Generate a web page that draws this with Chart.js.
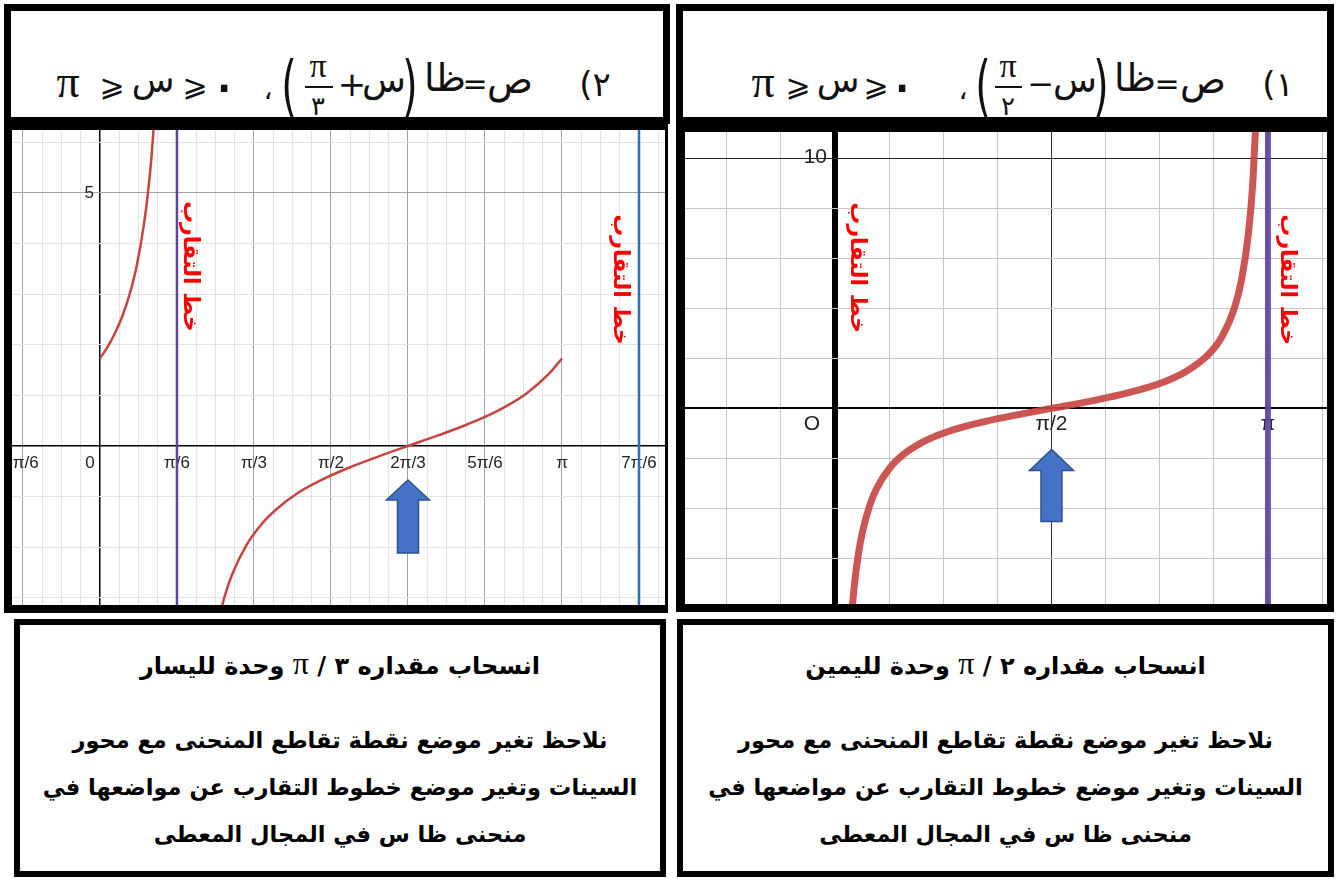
<!DOCTYPE html>
<html>
<head>
<meta charset="utf-8">
<script src="https://cdn.jsdelivr.net/npm/chart.js@4.4.1/dist/chart.umd.min.js"></script>
<style>
  html, body { margin: 0; padding: 0; background: #fff; }
  body { width: 1336px; height: 879px; position: relative; overflow: hidden; font-family: "DejaVu Sans", sans-serif; }
  .box { position: absolute; box-sizing: border-box; border: 7px solid #000; background: #fff; }
  .piece { position: absolute; line-height: 1; white-space: nowrap; color: #111; transform: translate(-50%, -50%); }
  .bar { position: absolute; height: 2px; background: #111; }
  .line { position: absolute; width: 100%; text-align: center; font-weight: bold; color: #000; line-height: 1; transform: translateY(-50%); }
  .pi { font-family: "Liberation Serif", serif; font-weight: normal; }
  canvas { position: absolute; }
</style>
</head>
<body>

<div class="box" style="left:4px;top:4px;width:666px;height:120px;"></div>
<div class="box" style="left:4px;top:123px;width:664px;height:490px;border-width:7px 3px 8px 8px;"></div>
<canvas id="chartL" width="653" height="475" style="left:12px;top:130px;"></canvas>

<div class="box" style="left:676px;top:4px;width:658px;height:120px;"></div>
<div class="box" style="left:676px;top:123px;width:658px;height:489px;border-width:9px 7px 8px 9px;"></div>
<canvas id="chartR" width="642" height="472" style="left:685px;top:132px;"></canvas>

<div class="box" style="left:14px;top:619px;width:652px;height:258px;border-width:6px;">
  <div class="line" dir="rtl" style="top:38px;font-size:24px;">انسحاب مقداره ٣ / <span class="pi" style="font-size:32px;">π</span> وحدة لليسار</div>
  <div class="line" dir="rtl" style="top:115px;font-size:22.5px;">نلاحظ تغير موضع نقطة تقاطع المنحنى مع محور</div>
  <div class="line" dir="rtl" style="top:162px;font-size:22.5px;">السينات وتغير موضع خطوط التقارب عن مواضعها في</div>
  <div class="line" dir="rtl" style="top:209px;font-size:22.5px;">منحنى ظا س في المجال المعطى</div>
</div>
<div class="box" style="left:677px;top:619px;width:657px;height:258px;border-width:6px;">
  <div class="line" dir="rtl" style="top:38px;font-size:24px;">انسحاب مقداره ٢ / <span class="pi" style="font-size:32px;">π</span> وحدة لليمين</div>
  <div class="line" dir="rtl" style="top:115px;font-size:22.5px;">نلاحظ تغير موضع نقطة تقاطع المنحنى مع محور</div>
  <div class="line" dir="rtl" style="top:162px;font-size:22.5px;">السينات وتغير موضع خطوط التقارب عن مواضعها في</div>
  <div class="line" dir="rtl" style="top:209px;font-size:22.5px;">منحنى ظا س في المجال المعطى</div>
</div>

<script>
// ---- left panel: y = tan(x + π/3), 0 <= x <= π ----
const leftBranch1X = [0, 0.05, 0.1, 0.15, 0.2, 0.25, 0.3, 0.33, 0.35, 0.37, 0.38];
const leftBranch1Y = [1.73, 1.95, 2.22, 2.55, 2.98, 3.56, 4.40, 5.10, 5.70, 6.47, 6.94];
const leftBranch2X = [0.82, 0.85, 0.9, 1.0, 1.1, 1.2, 1.35, 1.5, 1.7, 1.9, 2.094, 2.3, 2.5, 2.7, 2.9, 3.05, 3.1416];
const leftBranch2Y = [-3.28, -2.95, -2.53, -1.94, -1.54, -1.25, -0.92, -0.68, -0.42, -0.20, 0, 0.21, 0.43, 0.69, 1.04, 1.42, 1.73];
const leftAsymptotes = [Math.PI / 6, 7 * Math.PI / 6];
const leftCrossing = 2 * Math.PI / 3;
const leftXTicks = [-Math.PI / 6, 0, Math.PI / 6, Math.PI / 3, Math.PI / 2, 2 * Math.PI / 3, 5 * Math.PI / 6, Math.PI, 7 * Math.PI / 6];
const leftXLabels = ['-π/6', '0', 'π/6', 'π/3', 'π/2', '2π/3', '5π/6', 'π', '7π/6'];
const leftYTicks = [5];
const leftYLabels = ['5'];

// ---- right panel: y = tan(x - π/2), 0 <= x <= π ----
const rightCurveX = [0.12, 0.14, 0.17, 0.2, 0.25, 0.3, 0.4, 0.5, 0.6, 0.75, 0.9, 1.1, 1.3, 1.5708, 1.8, 2.0, 2.2, 2.4, 2.55, 2.7, 2.8, 2.9, 2.95, 3.0, 3.03, 3.06];
const rightCurveY = [-8.29, -7.10, -5.82, -4.93, -3.92, -3.23, -2.37, -1.83, -1.46, -1.07, -0.79, -0.51, -0.28, 0, 0.23, 0.46, 0.73, 1.09, 1.49, 2.11, 2.80, 4.06, 5.16, 7.02, 8.92, 12.2];
const rightAsymptotes = [Math.PI];
const rightCrossing = Math.PI / 2;
const rightXTicks = [0, Math.PI / 2, Math.PI];
const rightXLabels = ['O', 'π/2', 'π'];
const rightYTicks = [10];
const rightYLabels = ['10'];

const noteText = 'خط التقارب';

// header formulas, placed piece by piece: [text, centre x, centre y, size, serif?]
const headerPieces = [
  ['π', 68, 82, 46, 1], ['⩾', 112, 86, 30], ['س', 153, 80, 35], ['⩾', 195, 86, 30], ['٠', 224, 84, 60], ['،', 268, 90, 28],
  ['(', 289, 86, 66], ['π', 318, 66, 34, 1], ['٣', 318, 106, 26], ['+', 352, 84, 34], ['س', 384, 80, 36], [')', 410, 86, 66],
  ['ظا', 445, 78, 38], ['=', 475, 84, 30], ['ص', 510, 80, 38], ['(٢', 595, 84, 34],
  ['π', 763, 82, 46, 1], ['⩾', 798, 86, 30], ['س', 838, 80, 35], ['⩾', 876, 86, 30], ['٠', 902, 84, 60], ['،', 963, 90, 28],
  ['(', 983, 86, 66], ['π', 1008, 66, 34, 1], ['٢', 1008, 106, 26], ['−', 1041, 84, 32], ['س', 1075, 80, 36], [')', 1101, 86, 66],
  ['ظا', 1135, 78, 38], ['=', 1167, 84, 30], ['ص', 1203, 80, 38], ['(١', 1278, 84, 34]
];
headerPieces.forEach(([t, x, y, s, serif]) => {
  const el = document.createElement('div');
  el.className = 'piece';
  el.textContent = t;
  el.style.left = x + 'px';
  el.style.top = y + 'px';
  el.style.fontSize = s + 'px';
  el.style.fontFamily = serif ? '"Liberation Serif", serif' : '"DejaVu Sans", sans-serif';
  if (t === '(' || t === ')') el.style.transform = 'translate(-50%, -50%) scaleX(0.6)';
  document.body.appendChild(el);
});
[[305, 86, 28], [995, 86, 27]].forEach(([x, y, w]) => {
  const b = document.createElement('div');
  b.className = 'bar';
  b.style.left = x + 'px'; b.style.top = y + 'px'; b.style.width = w + 'px';
  document.body.appendChild(b);
});

function pts(xs, ys) {
  return xs.map((x, i) => ({ x: x, y: ys[i] }));
}

function gridTicks(step, majorEvery) {
  return function (scale) {
    const ticks = [];
    for (let k = Math.ceil(scale.min / step); k <= Math.floor(scale.max / step); k++) {
      ticks.push({ value: k * step, k: k, major: k % majorEvery === 0 });
    }
    scale.ticks = ticks;
  };
}

function gridOpts(c) {
  return {
    drawTicks: false,
    color: ctx => ctx.tick.k === 0 ? '#000' : (ctx.tick.major ? c.major : c.minor),
    lineWidth: ctx => ctx.tick.k === 0 ? c.axisWidth : 1
  };
}

// axis labels, arrow and rotated notes
const decor = {
  id: 'decor',
  beforeDatasetsDraw(chart, args, o) {
    const { ctx, chartArea: a, scales: { x, y } } = chart;
    ctx.save();
    ctx.beginPath();
    ctx.rect(a.left, a.top, a.width, a.height);
    ctx.clip();
    ctx.font = o.tickFont;
    ctx.fillStyle = '#222';
    ctx.textAlign = 'center';
    ctx.textBaseline = 'middle';
    const y0 = y.getPixelForValue(0);
    const x0 = x.getPixelForValue(0);
    o.xTicks.forEach((v, i) => {
      const dx = i === o.originIndex ? o.originDx : 0;
      ctx.fillText(o.xLabels[i], x.getPixelForValue(v) + dx, y0 + o.labelDy);
    });
    ctx.textAlign = 'right';
    o.yTicks.forEach((v, i) => {
      ctx.fillText(o.yLabels[i], x0 - o.yLabelDx, y.getPixelForValue(v) + o.yLabelDy);
    });
    ctx.restore();
  },
  afterDatasetsDraw(chart, args, o) {
    const { ctx, scales: { x, y } } = chart;
    const y0 = y.getPixelForValue(0);
    const ar = o.arrow;
    const ax = x.getPixelForValue(ar.x);
    ctx.save();
    ctx.beginPath();
    ctx.moveTo(ax, y0 + ar.tip);
    ctx.lineTo(ax + ar.head, y0 + ar.base);
    ctx.lineTo(ax + ar.shaft, y0 + ar.base);
    ctx.lineTo(ax + ar.shaft, y0 + ar.bottom);
    ctx.lineTo(ax - ar.shaft, y0 + ar.bottom);
    ctx.lineTo(ax - ar.shaft, y0 + ar.base);
    ctx.lineTo(ax - ar.head, y0 + ar.base);
    ctx.closePath();
    ctx.fillStyle = '#4472c4';
    ctx.fill();
    ctx.lineWidth = 1.5;
    ctx.strokeStyle = '#2f528f';
    ctx.stroke();

    ctx.font = o.noteFont;
    ctx.fillStyle = '#ff0000';
    ctx.textAlign = 'center';
    ctx.textBaseline = 'middle';
    o.notes.forEach(n => {
      ctx.save();
      ctx.translate(x.getPixelForValue(n.x) + n.dx, y.getPixelForValue(n.y));
      ctx.rotate(Math.PI / 2);
      ctx.fillText(noteText, 0, 0);
      ctx.restore();
    });
    ctx.restore();
  }
};

function vline(v, color, width) {
  return { data: [{ x: v, y: -100 }, { x: v, y: 100 }], showLine: true, borderColor: color, borderWidth: width, pointRadius: 0 };
}

function curve(data, color, width) {
  return { data: data, showLine: true, borderColor: color, borderWidth: width, pointRadius: 0, cubicInterpolationMode: 'monotone' };
}

new Chart(document.getElementById('chartL'), {
  type: 'scatter',
  data: {
    datasets: [
      vline(leftAsymptotes[0], '#6042a6', 2.5),
      vline(leftAsymptotes[1], '#2d70b3', 2.5),
      curve(pts(leftBranch1X, leftBranch1Y), '#c74440', 2.5),
      curve(pts(leftBranch2X, leftBranch2Y), '#c74440', 2.5)
    ]
  },
  options: {
    responsive: false,
    animation: false,
    layout: { padding: 0 },
    plugins: {
      legend: { display: false },
      tooltip: { enabled: false },
      decor: {
        tickFont: '17px "Liberation Sans", Arial, sans-serif',
        xTicks: leftXTicks, xLabels: leftXLabels, originIndex: 1, originDx: -10, labelDy: 17,
        yTicks: leftYTicks, yLabels: leftYLabels, yLabelDx: 6, yLabelDy: 0,
        arrow: { x: leftCrossing, tip: 34, base: 54, bottom: 107, head: 21.5, shaft: 10.5 },
        noteFont: 'bold 22px "DejaVu Sans", sans-serif',
        notes: [{ x: leftAsymptotes[0], dx: 13, y: 3.55 }, { x: leftAsymptotes[1], dx: -19, y: 3.29 }]
      }
    },
    scales: {
      x: {
        type: 'linear', min: -0.598, max: 3.842,
        afterBuildTicks: gridTicks(Math.PI / 24, 4),
        ticks: { display: false }, border: { display: false },
        grid: gridOpts({ major: '#a3a3a3', minor: '#e3e3e3', axisWidth: 1.5 })
      },
      y: {
        type: 'linear', min: -3.142, max: 6.245,
        afterBuildTicks: gridTicks(1, 5),
        ticks: { display: false }, border: { display: false },
        grid: gridOpts({ major: '#a3a3a3', minor: '#e3e3e3', axisWidth: 1.5 })
      }
    }
  },
  plugins: [decor]
});

new Chart(document.getElementById('chartR'), {
  type: 'scatter',
  data: {
    datasets: [
      vline(rightAsymptotes[0], 'rgba(96,66,166,0.9)', 6),
      curve(pts(rightCurveX, rightCurveY), 'rgba(199,68,64,0.9)', 7)
    ]
  },
  options: {
    responsive: false,
    animation: false,
    layout: { padding: 0 },
    plugins: {
      legend: { display: false },
      tooltip: { enabled: false },
      decor: {
        tickFont: '21px "Liberation Sans", Arial, sans-serif',
        xTicks: rightXTicks, xLabels: rightXLabels, originIndex: 0, originDx: -23, labelDy: 16,
        yTicks: rightYTicks, yLabels: rightYLabels, yLabelDx: 8, yLabelDy: -2,
        arrow: { x: rightCrossing, tip: 41, base: 62, bottom: 113, head: 22, shaft: 10.5 },
        noteFont: 'bold 22px "DejaVu Sans", sans-serif',
        notes: [{ x: 0, dx: 22, y: 5.64 }, { x: rightAsymptotes[0], dx: 19, y: 5.16 }]
      }
    },
    scales: {
      x: {
        type: 'linear', min: -1.0885, max: 3.570,
        afterBuildTicks: gridTicks(Math.PI / 8, 4),
        ticks: { display: false }, border: { display: false },
        grid: gridOpts({ major: '#333', minor: '#c6c6c6', axisWidth: 6 })
      },
      y: {
        type: 'linear', min: -7.84, max: 11.08,
        afterBuildTicks: gridTicks(2, 5),
        ticks: { display: false }, border: { display: false },
        grid: gridOpts({ major: '#222', minor: '#c6c6c6', axisWidth: 2 })
      }
    }
  },
  plugins: [decor]
});
</script>
</body>
</html>
